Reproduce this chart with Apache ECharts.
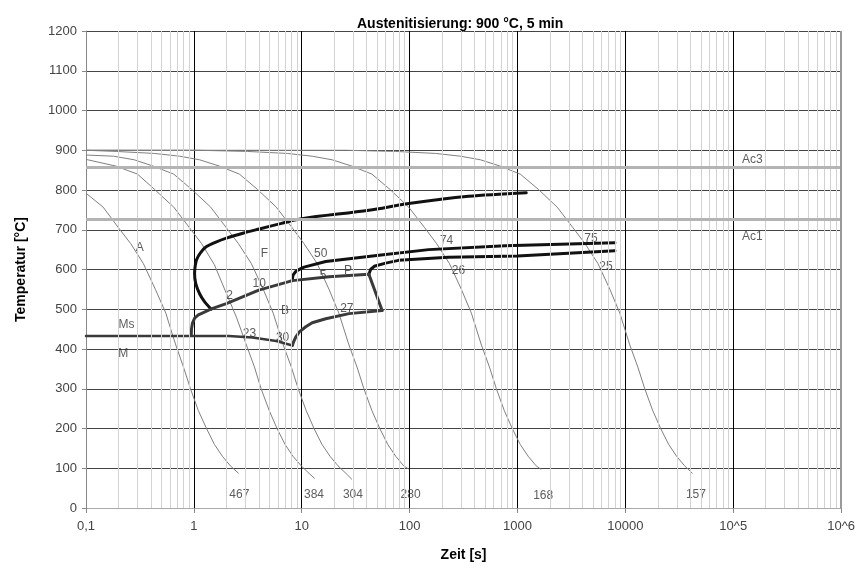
<!DOCTYPE html>
<html><head><meta charset="utf-8">
<script src="https://cdn.jsdelivr.net/npm/echarts/dist/echarts.min.js"></script>
<style>html,body{margin:0;padding:0;background:#fff}#c{width:858px;height:570px}</style>
</head><body><div id="c"></div>
<script>
// ---- tick labels ----
const xTickLabels = ['0,1','1','10','100','1000','10000','10^5','10^6'];
const decades = [0.1,1,10,100,1000,10000,100000];
const minorFactors = [2,3,4,5,6,7,8,9];
const acTemps = [858, 726];

// ---- cooling curves [time s, temperature °C] ----
const c467 = [[0.1,792],[0.144,757],[0.2,705],[0.26,665],[0.34,615],[0.44,550],[0.55,490],[0.61,450],[0.68,410],[0.8,355],[0.93,300],[1.1,245],[1.31,200],[1.55,160],[1.84,130],[2.18,106],[2.6,87]];
const c384 = [[0.1,877],[0.19,860],[0.3,840],[0.43,802],[0.65,757],[0.91,705],[1.18,665],[1.55,612],[2.0,540],[2.48,480],[2.76,445],[3.07,410],[3.64,355],[4.2,300],[5.0,245],[5.9,200],[7.0,160],[8.3,130],[9.9,106],[11.7,87],[13.2,74]];
const c304 = [[0.1,888],[0.18,885],[0.28,876],[0.42,860],[0.65,840],[0.95,802],[1.43,757],[2.0,705],[2.59,665],[3.41,615],[4.4,550],[5.44,490],[6.06,450],[6.74,410],[8.0,355],[9.27,300],[11.0,245],[13.0,200],[15.4,160],[18.3,130],[21.7,106],[25.7,87],[29.2,72]];
const c280 = [[0.1,900],[0.19,897],[0.43,892],[0.74,885],[1.13,876],[1.73,860],[2.64,840],[3.87,802],[5.8,757],[8.15,705],[10.5,665],[13.9,615],[17.9,550],[22.1,490],[24.6,450],[27.4,410],[32.5,355],[37.7,300],[44.7,245],[52.9,200],[62.7,160],[74.4,130],[88.2,106],[98,98]];
const c168 = [[0.1,900],[1.08,900],[3.13,897],[7.33,892],[12.5,885],[19.1,876],[29.2,860],[44.7,840],[65.4,802],[98,757],[138,705],[178,665],[234,615],[302,550],[374,490],[416,450],[463,410],[549,355],[637,300],[755,245],[894,200],[1060,160],[1257,130],[1490,106],[1660,97]];
const c157 = [[0.1,900],[25.7,900],[74.4,897],[174,892],[296,885],[453,876],[693,860],[1061,840],[1556,802],[2330,757],[3270,705],[4230,665],[5570,615],[7190,550],[8890,490],[9890,450],[11000,410],[13040,355],[15130,300],[17940,245],[21260,200],[25190,160],[29880,130],[35420,106],[41970,87]];

// ---- transformation lines ----
const ferriteStart = [[1.45,500],[1.25,520],[1.13,539],[1.04,565],[1.015,590],[1.03,610],[1.06,625],[1.15,642],[1.3,657],[1.6,669],[2.0,679],[2.9,692],[4.04,702],[6.5,716],[10,728],[42,749],[98,766],[352,784],[1205,793]];
const pearliteStart = [[8.15,572],[8.3,586],[8.8,595],[9.6,601],[10.5,606],[16.7,620],[52,636],[150,650],[770,660],[8000,667]];
const pearliteEnd = [[41.9,588],[43.5,600],[47,608],[60,616],[79,623],[229,631],[1000,634],[8000,647]];
const bainiteStart = [[0.946,436],[0.95,450],[0.97,465],[1.02,478],[1.1,486],[1.21,491],[1.45,501],[2.0,514],[4.0,548],[8.2,572],[17.9,582],[41.9,588]];
const bainiteRight = [[41.9,588],[55.6,497]];
const bainiteEnd = [[55.6,497],[27.4,489],[16.7,476],[12.5,466],[10.9,456],[9.5,443],[8.8,430],[8.4,418],[8.2,409]];
const msLine = [[0.1,433],[2.1,433],[3.5,429],[5.8,420],[8.2,409]];

// ---- text labels in the plot ----
const labelText = ['A','F','B','P','Ms','M','2','10','23','30','50','5','27','74','26','75','25','467','384','304','280','168','157','Ac3','Ac1'];
const labelTime = [0.315,4.5,7.0,26.8,0.238,0.221,2.14,4.04,3.27,6.64,15.0,15.8,26.2,220,284,4800,6610,2.64,13.0,29.8,102,1730,45100,150000,150000];
const labelTemp = [655,641,497,598,460,388,535,565,439,429,640,585,502,673,598,678,606,34,34,34,34,32,34,876,683];

const FONT = 'Liberation Sans, Arial, sans-serif';
const minorValues = [];
decades.forEach(d => minorFactors.forEach(f => minorValues.push(d * f)));

const cooling = [c467, c384, c304, c280, c168, c157];
const series = [];
series.push({
  type: 'line', data: [[0.1, 0]], symbol: 'none', z: -1, silent: true,
  lineStyle: {width: 0},
  markLine: {silent: true, symbol: ['none','none'], label: {show: false}, animation: false,
    lineStyle: {color: '#d2d2d2', width: 1, type: 'solid'},
    data: minorValues.map(v => ({xAxis: v}))}
});
series.push({
  type: 'line', data: [[0.1, 0]], symbol: 'none', silent: true, z: 1,
  lineStyle: {width: 0},
  markLine: {silent: true, symbol: ['none','none'], label: {show: false}, animation: false,
    data: [
      ...acTemps.map(v => ({yAxis: v, lineStyle: {color: '#b4b4b4', width: 3, type: 'solid'}})),
      {xAxis: 1000000, lineStyle: {color: '#999', width: 2, type: 'solid'}}
    ]}
});
cooling.forEach(c => series.push({
  type: 'line', data: c, symbol: 'none', smooth: false, silent: true, z: 2,
  lineStyle: {color: '#808080', width: 1}
}));
const thick = [
  [ferriteStart, '#111', 3, 0.3], [pearliteStart, '#111', 3, false], [pearliteEnd, '#111', 3, false],
  [bainiteStart, '#3a3a3a', 3, false], [bainiteRight, '#3a3a3a', 3, false],
  [bainiteEnd, '#3a3a3a', 3, false], [msLine, '#3a3a3a', 2.5, false]
];
thick.forEach(([d, col, w, sm]) => series.push({
  type: 'line', data: d, symbol: 'none', smooth: sm, silent: true, z: 3,
  lineStyle: {color: col, width: w, join: 'round', cap: 'round'}
}));
series.push({
  type: 'scatter', symbolSize: 0, silent: true, z: 4,
  data: labelText.map((t, i) => ({name: t, value: [labelTime[i], labelTemp[i]]})),
  label: {show: true, position: 'inside', formatter: p => p.name, color: '#333', fontSize: 12, fontFamily: FONT}
});

const chart = echarts.init(document.getElementById('c'), null, {renderer: 'canvas'});
chart.setOption({
  animation: false,
  backgroundColor: '#fff',
  title: {text: 'Austenitisierung: 900 °C, 5 min', left: 352, top: 12,
    textStyle: {fontSize: 14, fontWeight: 'bold', color: '#000', fontFamily: FONT}},
  grid: {left: 86, right: 14, top: 31, bottom: 62, containLabel: false},
  xAxis: {
    type: 'log', logBase: 10, min: 0.1, max: 1000000,
    name: 'Zeit [s]', nameLocation: 'middle', nameGap: 40,
    nameTextStyle: {fontSize: 14, fontWeight: 'bold', color: '#000', fontFamily: FONT},
    axisLine: {lineStyle: {color: '#aaa', width: 1}},
    axisTick: {show: true, length: 5, lineStyle: {color: '#888'}},
    axisLabel: {margin: 12, color: '#444', fontSize: 13, fontFamily: FONT,
      formatter: v => xTickLabels[Math.round(Math.log10(v)) + 1]},
    splitLine: {show: true, lineStyle: {color: '#000', width: 1}},
    minorTick: {show: false}
  },
  yAxis: {
    type: 'value', min: 0, max: 1200, interval: 100,
    name: 'Temperatur [°C]', nameLocation: 'middle', nameGap: 58,
    nameTextStyle: {fontSize: 14, fontWeight: 'bold', color: '#000', fontFamily: FONT},
    axisLine: {show: true, lineStyle: {color: '#888', width: 1}},
    axisTick: {show: true, length: 4, lineStyle: {color: '#888'}},
    axisLabel: {margin: 9, color: '#444', fontSize: 13, fontFamily: FONT, formatter: v => String(v)},
    splitLine: {show: true, lineStyle: {color: '#444', width: 1}}
  },
  series: series
});
</script></body></html>
